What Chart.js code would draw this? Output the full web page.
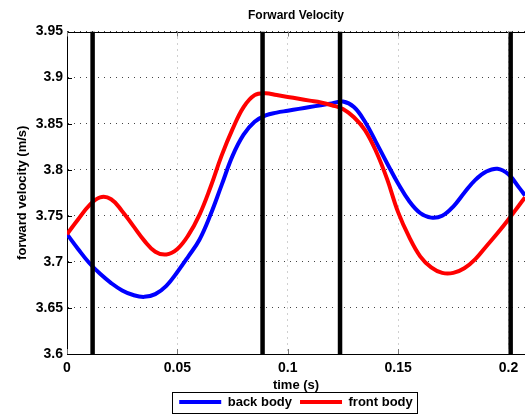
<!DOCTYPE html>
<html>
<head>
<meta charset="utf-8">
<title>Forward Velocity</title>
<script src="https://cdn.jsdelivr.net/npm/chart.js@4.4.1/dist/chart.umd.min.js"></script>
<style>
  html, body { margin: 0; padding: 0; background: #fff; }
  #wrap { width: 525px; height: 414px; }
</style>
</head>
<body>
<div id="wrap"><canvas id="velChart"></canvas></div>
<script>
// sample times (s)
const times = [
  0, 0.005, 0.010, 0.015, 0.020, 0.025, 0.030, 0.035, 0.040, 0.045,
  0.050, 0.055, 0.060, 0.065, 0.070, 0.075, 0.080, 0.085, 0.090, 0.095,
  0.100, 0.105, 0.110, 0.115, 0.120, 0.125, 0.130, 0.135, 0.140, 0.145,
  0.150, 0.155, 0.160, 0.165, 0.170, 0.175, 0.180, 0.185, 0.190, 0.195,
  0.200, 0.205, 0.2075
];

// forward velocity (m/s)
const backBody = [
  3.730, 3.714, 3.699, 3.687, 3.677, 3.669, 3.664, 3.662, 3.665, 3.674,
  3.689, 3.706, 3.724, 3.751, 3.783, 3.815, 3.838, 3.852, 3.859, 3.862,
  3.864, 3.866, 3.868, 3.870, 3.872, 3.874, 3.868, 3.852, 3.830, 3.807,
  3.785, 3.766, 3.753, 3.748, 3.750, 3.760, 3.775, 3.789, 3.798, 3.801,
  3.795, 3.780, 3.772
];
const frontBody = [
  3.730, 3.746, 3.761, 3.770, 3.768, 3.755, 3.739, 3.723, 3.711, 3.708,
  3.714, 3.729, 3.751, 3.781, 3.815, 3.844, 3.868, 3.881, 3.883, 3.881,
  3.879, 3.877, 3.875, 3.873, 3.870, 3.866, 3.857, 3.843, 3.820, 3.790,
  3.754, 3.727, 3.706, 3.694, 3.688, 3.688, 3.693, 3.703, 3.717, 3.731,
  3.746, 3.762, 3.770
];

// vertical event markers (s)
const eventTimes = [0.0116, 0.0886, 0.1237, 0.2010];

const xTicks = [0, 0.05, 0.1, 0.15, 0.2];
const yTicks = [3.6, 3.65, 3.7, 3.75, 3.8, 3.85, 3.9, 3.95];
const xMax = 0.2075;

const FONT = "'Liberation Sans', Arial, Helvetica, sans-serif";

const toPoints = ys => times.map((t, i) => ({ x: t, y: ys[i] }));
const yMin = yTicks[0];
const yMax = yTicks[yTicks.length - 1];

const datasets = [
  {
    label: 'back body',
    data: toPoints(backBody),
    borderColor: '#0000ff',
    backgroundColor: '#0000ff',
    borderWidth: 4,
    pointRadius: 0,
    tension: 0.4,
    order: 2
  },
  {
    label: 'front body',
    data: toPoints(frontBody),
    borderColor: '#ff0000',
    backgroundColor: '#ff0000',
    borderWidth: 4,
    pointRadius: 0,
    tension: 0.4,
    order: 1
  }
];

eventTimes.forEach(t => {
  datasets.push({
    label: 'event',
    isEvent: true,
    data: [{ x: t, y: yMin }, { x: t, y: yMax }],
    borderColor: '#000',
    borderWidth: 4.5,
    borderCapStyle: 'butt',
    pointRadius: 0,
    order: 0
  });
});

// top frame line, inward tick marks and the legend outline
const axesBox = {
  id: 'axesBox',
  afterDatasetsDraw(chart) {
    const { ctx, chartArea: { left, right, top, bottom }, scales: { x, y } } = chart;
    ctx.save();
    ctx.lineWidth = 1;
    ctx.strokeStyle = '#000';
    ctx.beginPath();
    ctx.moveTo(left, Math.round(top) + 0.5);
    ctx.lineTo(right, Math.round(top) + 0.5);
    yTicks.forEach(v => {
      const py = Math.round(y.getPixelForValue(v)) + 0.5;
      ctx.moveTo(left, py);
      ctx.lineTo(left + 5, py);
    });
    ctx.stroke();
    ctx.strokeStyle = '#777';
    ctx.beginPath();
    xTicks.forEach(v => {
      const px = Math.round(x.getPixelForValue(v)) + 0.5;
      ctx.moveTo(px, bottom);
      ctx.lineTo(px, bottom - 5);
      ctx.moveTo(px, top);
      ctx.lineTo(px, top + 5);
    });
    ctx.stroke();
    ctx.restore();
  },
  afterDraw(chart) {
    const boxes = chart.legend.legendHitBoxes;
    if (!boxes || !boxes.length) return;
    const { ctx } = chart;
    const l = Math.round(Math.min(...boxes.map(b => b.left)) - 7);
    const r = Math.round(Math.max(...boxes.map(b => b.left + b.width)) + 4);
    const cy = boxes[0].top + boxes[0].height / 2;
    const t = Math.round(cy - 10.5);
    ctx.save();
    ctx.strokeStyle = '#000';
    ctx.lineWidth = 1;
    ctx.strokeRect(l + 0.5, t + 0.5, r - l, 21);
    ctx.restore();
  }
};

new Chart(document.getElementById('velChart'), {
  type: 'line',
  data: { datasets },
  plugins: [axesBox],
  options: {
    responsive: true,
    maintainAspectRatio: false,
    animation: false,
    events: [],
    layout: { padding: { top: 0, left: 0, right: 0, bottom: -4.5 } },
    scales: {
      x: {
        type: 'linear',
        min: 0,
        max: xMax,
        afterBuildTicks: scale => { scale.ticks = xTicks.map(v => ({ value: v })); },
        afterFit: scale => { scale.height = 33.5; },
        ticks: {
          padding: 6,
          color: '#000',
          font: { family: FONT, size: 14, weight: 'bold' },
          callback: v => String(v),
          maxRotation: 0
        },
        grid: {
          drawTicks: false,
          color: '#a0a0a0',
          lineWidth: 1
        },
        border: { display: true, color: '#000', width: 1, dash: [1, 5] },
        title: {
          display: true,
          text: 'time (s)',
          color: '#000',
          font: { family: FONT, size: 13, weight: 'bold' },
          padding: { top: 0, bottom: -5.3 }
        }
      },
      y: {
        type: 'linear',
        min: yMin,
        max: yMax,
        afterBuildTicks: scale => { scale.ticks = yTicks.map(v => ({ value: v })); },
        afterFit: scale => { scale.width = 67; },
        ticks: {
          padding: 4,
          color: '#000',
          font: { family: FONT, size: 14, weight: 'bold' },
          callback: v => String(v)
        },
        grid: {
          drawTicks: false,
          color: '#444',
          lineWidth: 1
        },
        border: { display: true, color: '#000', width: 1, dash: [1, 5] },
        title: {
          display: true,
          text: 'forward velocity (m/s)',
          color: '#000',
          font: { family: FONT, size: 13, weight: 'bold' },
          padding: { top: 15, bottom: 0 }
        }
      }
    },
    plugins: {
      title: {
        display: true,
        text: 'Forward Velocity',
        fullSize: false,
        color: '#000',
        font: { family: FONT, size: 12, weight: 'bold' },
        padding: { top: 8.8, bottom: 8.3 }
      },
      legend: {
        display: true,
        position: 'bottom',
        fullSize: false,
        labels: {
          boxWidth: 42,
          boxHeight: 4,
          padding: 8,
          color: '#000',
          font: { family: FONT, size: 13, weight: 'bold' },
          filter: (item, data) => !data.datasets[item.datasetIndex].isEvent,
          sort: (a, b) => a.datasetIndex - b.datasetIndex,
          generateLabels: chart => Chart.defaults.plugins.legend.labels
            .generateLabels(chart)
            .map(item => ({ ...item, fillStyle: item.strokeStyle, lineWidth: 0 }))
        }
      },
      tooltip: { enabled: false }
    }
  }
});
</script>
</body>
</html>
